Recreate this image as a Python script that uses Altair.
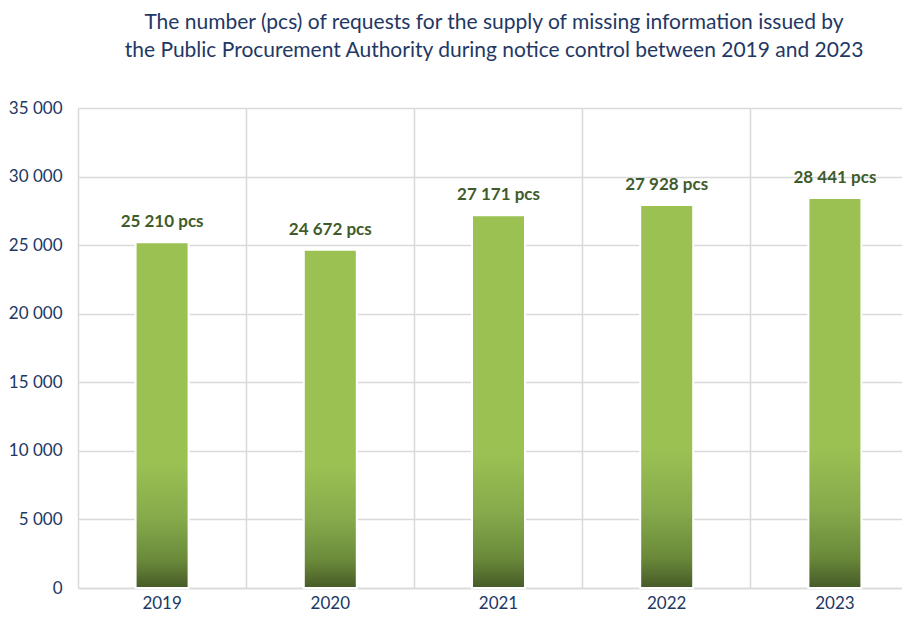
import altair as alt
import pandas as pd

years = ["2019", "2020", "2021", "2022", "2023"]
values = [25210, 24672, 27171, 27928, 28441]
labels = [f"{v:,}".replace(",", " ") + " pcs" for v in values]
y_ticks = [0, 5000, 10000, 15000, 20000, 25000, 30000, 35000]
title_lines = [
    "The number (pcs) of requests for the supply of missing information issued by",
    "the Public Procurement Authority during notice control between 2019 and 2023",
]

df = pd.DataFrame({"year": years, "value": values, "label": labels})

NAVY = "#203864"
GRID = "#D9D9D9"

gradient = alt.Gradient(
    gradient="linear",
    x1=0, x2=0, y1=0, y2=1,
    stops=[
        alt.GradientStop(color="#9BC153", offset=0),
        alt.GradientStop(color="#9BC153", offset=0.64),
        alt.GradientStop(color="#86A94B", offset=0.8),
        alt.GradientStop(color="#6A8A3A", offset=0.92),
        alt.GradientStop(color="#465A27", offset=1),
    ],
)

x_enc = alt.X(
    "year:N",
    sort=years,
    scale=alt.Scale(range=[0, 841], paddingInner=0, paddingOuter=0),
    axis=alt.Axis(
        title=None,
        bandPosition=0,
        grid=True,
        gridColor=GRID,
        gridWidth=1.5,
        ticks=False,
        domainColor=GRID,
        domainWidth=1.5,
        labelAngle=0,
        labelColor=NAVY,
        labelFont="Lato",
        labelFontSize=17,
        labelPadding=7,
    ),
)

y_enc = alt.Y(
    "value:Q",
    scale=alt.Scale(domain=[0, 35000]),
    axis=alt.Axis(
        title=None,
        values=y_ticks,
        domain=False,
        ticks=False,
        gridColor=GRID,
        gridWidth=1.5,
        labelColor=NAVY,
        labelFont="Lato",
        labelFontSize=17,
        labelPadding=16,
        labelExpr="replace(format(datum.value, ','), ',', ' ')",
    ),
)

base = alt.Chart(df).encode(x=x_enc, y=y_enc)

bars = base.mark_bar(width=53, stroke="white", strokeWidth=2, color=gradient)

texts = base.mark_text(
    dy=-20,
    baseline="middle",
    align="center",
    font="Lato",
    fontWeight="bold",
    fontSize=17,
    color="#3F5B2A",
).encode(text="label:N")

chart = (
    alt.layer(bars, texts)
    .properties(
        width=824,
        height=480,
        autosize=alt.AutoSizeParams(type="none"),
        padding={"left": 70, "top": 100, "right": 0, "bottom": 23},
        title=alt.TitleParams(
            text=title_lines,
            font="Lato",
            fontSize=21,
            fontWeight="normal",
            color="#1F3864",
            lineHeight=28,
            anchor="middle",
            offset=38,
            dx=4,
        ),
    )
    .configure_view(stroke=None)
)

chart.save("out.html", embed_options={"renderer": "svg", "actions": False})
